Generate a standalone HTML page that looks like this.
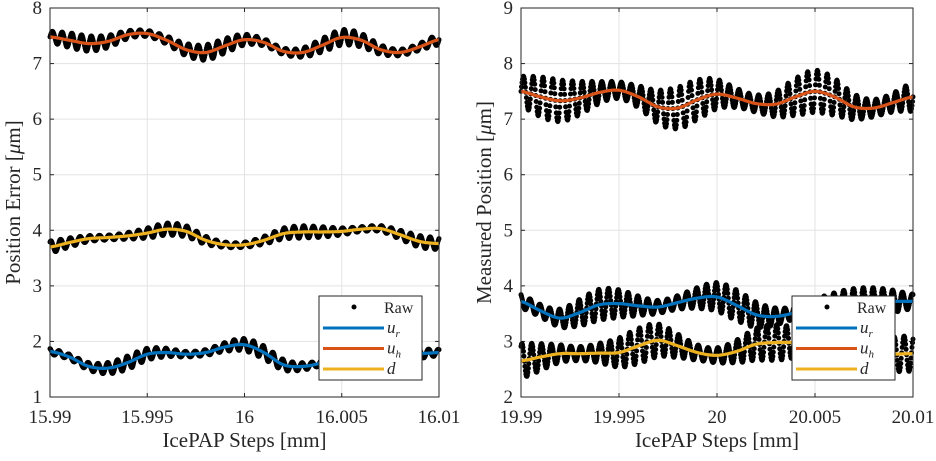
<!DOCTYPE html>
<html><head><meta charset="utf-8"><style>
body{margin:0;background:#fff;}
svg{display:block;font-family:"Liberation Serif","DejaVu Serif",serif;}
</style></head><body>
<svg id="c" width="936" height="461" viewBox="0 0 936 461" xmlns="http://www.w3.org/2000/svg"></svg>
<script>
// ---- data ----
const leftX = [15.990,15.991,15.992,15.993,15.994,15.995,15.996,15.997,15.998,15.999,16.000,16.001,16.002,16.003,16.004,16.005,16.006,16.007,16.008,16.009,16.010];
const leftUh = [7.48,7.42,7.36,7.40,7.52,7.54,7.42,7.25,7.20,7.32,7.43,7.38,7.22,7.20,7.33,7.47,7.42,7.25,7.20,7.30,7.43];
const leftD  = [3.70,3.78,3.85,3.87,3.90,3.95,4.02,3.98,3.82,3.74,3.74,3.82,3.94,3.97,3.97,3.98,4.02,4.03,3.92,3.80,3.76];
const leftUr = [1.82,1.72,1.55,1.52,1.62,1.77,1.80,1.77,1.80,1.90,1.94,1.80,1.58,1.55,1.62,1.75,1.80,1.78,1.78,1.78,1.80];
const rightX = [19.990,19.991,19.992,19.993,19.994,19.995,19.996,19.997,19.998,19.999,20.000,20.001,20.002,20.003,20.004,20.005,20.006,20.007,20.008,20.009,20.010];
const rightUh = [7.50,7.40,7.33,7.38,7.48,7.52,7.40,7.22,7.20,7.35,7.45,7.38,7.28,7.27,7.40,7.50,7.40,7.22,7.20,7.30,7.40];
const rightUr = [3.72,3.55,3.42,3.52,3.66,3.68,3.64,3.62,3.70,3.78,3.80,3.65,3.48,3.45,3.52,3.62,3.66,3.68,3.70,3.72,3.72];
const rightD  = [2.65,2.72,2.78,2.78,2.79,2.80,2.92,3.02,2.92,2.80,2.75,2.82,2.95,2.98,2.98,2.98,2.90,2.78,2.75,2.77,2.78];
const leftRipple = [0.14,0.11,0.12];   // raw ripple amplitude per series (uh, d, ur)
const rightRipple = [0.38,0.32,0.28];
const leftXTicks = ["15.99","15.995","16","16.005","16.01"];
const rightXTicks = ["19.99","19.995","20","20.005","20.01"];
const leftYTicks = [1,2,3,4,5,6,7,8];
const rightYTicks = [2,3,4,5,6,7,8,9];

const NS="http://www.w3.org/2000/svg";
const svg=document.getElementById('c');
function mk(tag,attrs,parent){const e=document.createElementNS(NS,tag);for(const k in attrs)e.setAttribute(k,attrs[k]);(parent||svg).appendChild(e);return e;}
const colors={ur:"#0072BD",uh:"#D95319",d:"#EDB120"};

function interp(xs,ys,x){const n=xs.length;for(let i=0;i<n-1;i++){if(x<=xs[i+1]){const t=(x-xs[i])/(xs[i+1]-xs[i]);
  const p0=ys[Math.max(i-1,0)],p1=ys[i],p2=ys[i+1],p3=ys[Math.min(i+2,n-1)];
  return 0.5*((2*p1)+(-p0+p2)*t+(2*p0-5*p1+4*p2-p3)*t*t+(-p0+3*p1-3*p2+p3)*t*t*t);}}return ys[n-1];}

function panel(o){
  const g=mk('g',{});
  
  
  const L=o.x0,R=o.x1,T=8,B=397;
  const xmin=o.xs[0],xmax=o.xs[o.xs.length-1];
  const sx=v=>L+(v-xmin)/(xmax-xmin)*(R-L);
  const sy=v=>B-(v-o.ymin)/(o.ymax-o.ymin)*(B-T);
  mk('rect',{x:L,y:T,width:R-L,height:B-T,fill:'#fff'},g);
  o.yt.forEach(v=>{const y=sy(v);const l=mk('line',{x1:L,x2:R,y1:y,y2:y,stroke:'#e3e3e3','stroke-width':1},g);
    const t=mk('text',{x:L-8,y:y+6,'text-anchor':'end','font-size':19,fill:'#262626'},g);t.textContent=v;
    mk('line',{x1:L,x2:L+4,y1:y,y2:y,stroke:'#262626'},g);mk('line',{x1:R,x2:R-4,y1:y,y2:y,stroke:'#262626'},g);});
  o.xt.forEach((lab,i)=>{const x=L+i*(R-L)/(o.xt.length-1);mk('line',{x1:x,x2:x,y1:T,y2:B,stroke:'#e3e3e3'},g);
    const t=mk('text',{x:x,y:B+26,'text-anchor':'middle','font-size':19,fill:'#262626'},g);t.textContent=lab;
    mk('line',{x1:x,x2:x,y1:B,y2:B-4,stroke:'#262626'},g);mk('line',{x1:x,x2:x,y1:T,y2:T+4,stroke:'#262626'},g);});
  const series=[[o.uh,colors.uh,o.rip[0]],[o.d,colors.d,o.rip[1]],[o.ur,colors.ur,o.rip[2]]];
  const raw=mk('g',{fill:'#000'},g);
  series.forEach(([ys,c,a],si)=>{
    const N=800;
    for(let k=0;k<=N;k++){const xv=xmin+(xmax-xmin)*k/N;const base=interp(o.xs,ys,xv);
      const ph=k/N*2*Math.PI*40+si;const env=0.7+0.3*Math.sin(k/N*2*Math.PI*3+si*2);
      const yv=base+a*env*Math.sin(ph);
      mk('circle',{cx:sx(xv).toFixed(1),cy:sy(yv).toFixed(1),r:2.5},raw);}
  });
  const names=['fit-uh-line','fit-d-line','fit-ur-line'];
  series.forEach(([ys,c],si)=>{let d='';for(let k=0;k<=300;k++){const xv=xmin+(xmax-xmin)*k/300;d+=(k?'L':'M')+sx(xv).toFixed(1)+','+sy(interp(o.xs,ys,xv)).toFixed(1);}
    const p=mk('path',{d:d,fill:'none',stroke:c,'stroke-width':3.2},g);});
  mk('rect',{x:L,y:T,width:R-L,height:B-T,fill:'none',stroke:'#262626','stroke-width':1},g);
  const xl=mk('text',{x:(L+R)/2,y:447,'text-anchor':'middle','font-size':21,fill:'#262626'},g);xl.textContent='IcePAP Steps [mm]';
  const yl=mk('text',{x:0,y:0,'text-anchor':'middle','font-size':21,fill:'#262626',transform:`translate(${o.ylx},${(T+B)/2}) rotate(-90)`},g);yl.innerHTML=o.ylabel+' [<tspan font-style="italic">μ</tspan>m]';
  const lg=mk('g',{},g);
  const lx=o.lx,ly=296;
  mk('rect',{x:lx,y:ly,width:103,height:84,fill:'#fff',stroke:'#262626','stroke-width':1},lg);
  mk('circle',{cx:lx+35,cy:ly+11,r:2.5,fill:'#000'},lg);
  const tr=mk('text',{x:lx+65,y:ly+17,'font-size':16,fill:'#262626'},lg);tr.textContent='Raw';
  [['u','r',colors.ur],['u','h',colors.uh],['d','',colors.d]].forEach(([a,b,c],i)=>{const y=ly+32+i*20.5;
    mk('line',{x1:lx+4,x2:lx+65,y1:y,y2:y,stroke:c,'stroke-width':3},lg);
    const t=mk('text',{x:lx+68,y:y+5,'font-size':17,'font-style':'italic',fill:'#262626'},lg);
    t.innerHTML=a+(b?'<tspan font-size="11" dy="4">'+b+'</tspan>':'');
    });
}
panel({name:'left-panel',x0:50,x1:439,xs:leftX,uh:leftUh,d:leftD,ur:leftUr,rip:leftRipple,ymin:1,ymax:8,yt:leftYTicks,xt:leftXTicks,ylabel:'Position Error',ylx:20,lx:319});
panel({name:'right-panel',x0:521,x1:913,xs:rightX,uh:rightUh,d:rightD,ur:rightUr,rip:rightRipple,ymin:2,ymax:9,yt:rightYTicks,xt:rightXTicks,ylabel:'Measured Position',ylx:491,lx:792});
</script>
</body></html>
